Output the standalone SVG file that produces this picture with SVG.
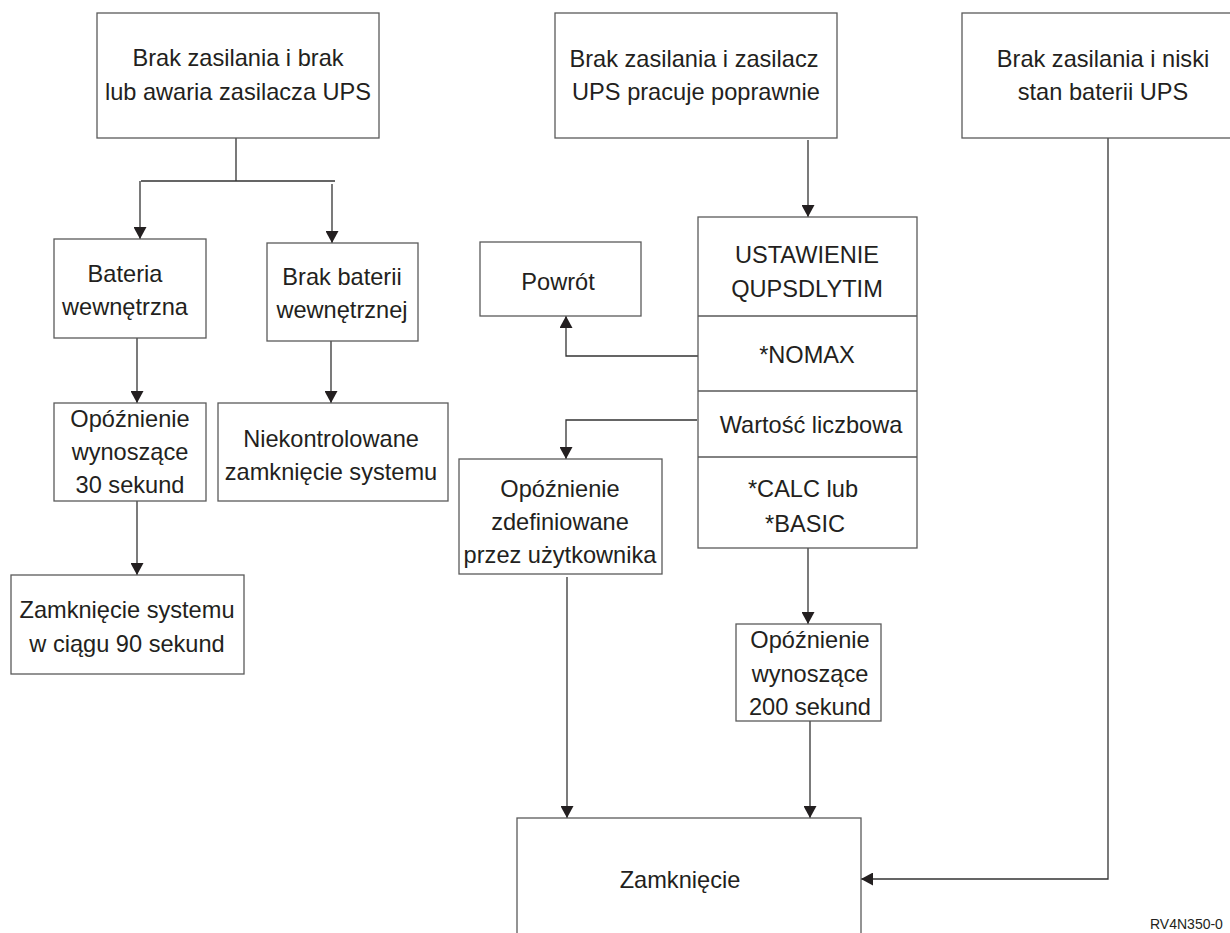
<svg xmlns="http://www.w3.org/2000/svg" width="1230" height="933" viewBox="0 0 1230 933">
<defs>
<marker id="ah" markerUnits="userSpaceOnUse" markerWidth="13" markerHeight="13" refX="12" refY="6.5" orient="auto">
<path d="M0,0 L12,6.5 L0,13 z" fill="#231f20"/>
</marker>
<style>
.box{fill:#fff;stroke:#5a5a5a;stroke-width:1.3}
.t{font-family:"Liberation Sans",Arial,sans-serif;font-size:23.6px;fill:#231f20;text-anchor:middle}
.c{fill:none;stroke:#333;stroke-width:1.3}
.a{fill:none;stroke:#333;stroke-width:1.3;marker-end:url(#ah)}
</style>
</defs>
<rect width="1230" height="933" fill="#fff"/>
<g id="connectors">
<path class="c" d="M236,138 V181 M141,181 H335"/>
<path class="a" d="M140,181 V239"/>
<path class="a" d="M332,184 V243"/>
<path class="a" d="M137,338 V403"/>
<path class="a" d="M331,341 V403"/>
<path class="a" d="M137,501 V575"/>
<path class="a" d="M808,140 V217"/>
<path class="a" d="M698,356 H566 V316"/>
<path class="a" d="M697,420 H566 V459"/>
<path class="a" d="M567,577 V818"/>
<path class="a" d="M808,548 V624"/>
<path class="a" d="M810,721 V818"/>
<path class="a" d="M1108,138 V879 H861"/>
</g>
<g id="n1">
<rect class="box" x="97" y="13" width="282" height="125"/>
<text class="t" x="238" y="66">Brak zasilania i brak</text>
<text class="t" x="238" y="100">lub awaria zasilacza UPS</text>
</g>
<g id="n2">
<rect class="box" x="555" y="13" width="282" height="125"/>
<text class="t" x="694" y="67">Brak zasilania i zasilacz</text>
<text class="t" x="696" y="100">UPS pracuje poprawnie</text>
</g>
<g id="n3">
<rect class="box" x="962" y="13" width="280" height="125"/>
<text class="t" x="1103" y="67">Brak zasilania i niski</text>
<text class="t" x="1103" y="100">stan baterii UPS</text>
</g>
<g id="n4">
<rect class="box" x="54" y="239" width="152" height="99"/>
<text class="t" x="125" y="282">Bateria</text>
<text class="t" x="125" y="315">wewnętrzna</text>
</g>
<g id="n5">
<rect class="box" x="267" y="243" width="151" height="98"/>
<text class="t" x="342" y="285">Brak baterii</text>
<text class="t" x="342" y="318">wewnętrznej</text>
</g>
<g id="n6">
<rect class="box" x="54" y="403" width="152" height="98"/>
<text class="t" x="130" y="427">Opóźnienie</text>
<text class="t" x="130" y="460">wynoszące</text>
<text class="t" x="130" y="493">30 sekund</text>
</g>
<g id="n7">
<rect class="box" x="218" y="403" width="230" height="98"/>
<text class="t" x="331" y="447">Niekontrolowane</text>
<text class="t" x="331" y="480">zamknięcie systemu</text>
</g>
<g id="n8">
<rect class="box" x="11" y="575" width="233" height="99"/>
<text class="t" x="127" y="618">Zamknięcie systemu</text>
<text class="t" x="127" y="652">w ciągu 90 sekund</text>
</g>
<g id="n9">
<rect class="box" x="480" y="242" width="161" height="74"/>
<text class="t" x="558" y="290">Powrót</text>
</g>
<g id="n10">
<rect class="box" x="698" y="217" width="219" height="331"/>
<path class="box" d="M698,316 H917 M698,391 H917 M698,457 H917"/>
<text class="t" x="807" y="263">USTAWIENIE</text>
<text class="t" x="807" y="297">QUPSDLYTIM</text>
<text class="t" x="807" y="363">*NOMAX</text>
<text class="t" x="811" y="433">Wartość liczbowa</text>
<text class="t" x="803" y="497">*CALC lub</text>
<text class="t" x="805" y="532">*BASIC</text>
</g>
<g id="n11">
<rect class="box" x="459" y="459" width="203" height="115"/>
<text class="t" x="560" y="497">Opóźnienie</text>
<text class="t" x="560" y="530">zdefiniowane</text>
<text class="t" x="560" y="563">przez użytkownika</text>
</g>
<g id="n12">
<rect class="box" x="736" y="624" width="145" height="97"/>
<text class="t" x="810" y="648">Opóźnienie</text>
<text class="t" x="810" y="682">wynoszące</text>
<text class="t" x="810" y="715">200 sekund</text>
</g>
<g id="n13">
<rect class="box" x="517" y="818" width="344" height="140"/>
<text class="t" x="680" y="888">Zamknięcie</text>
</g>
<text x="1150" y="929" style="font-family:'Liberation Sans',Arial,sans-serif;font-size:14px;fill:#231f20">RV4N350-0</text>
</svg>
